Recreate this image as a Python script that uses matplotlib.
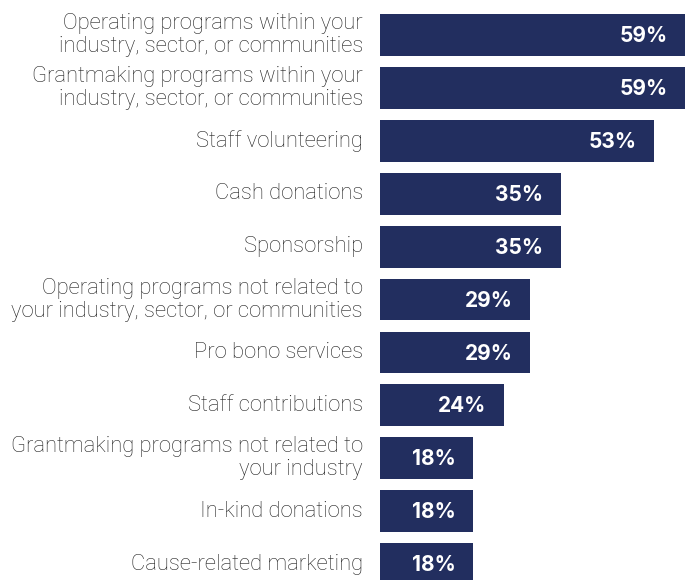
import numpy as np
from matplotlib import pyplot as plt

categories = [
    'Operating programs within your\nindustry, sector, or communities',
    'Grantmaking programs within your\nindustry, sector, or communities',
    'Staff volunteering',
    'Cash donations',
    'Sponsorship',
    'Operating programs not related to\nyour industry, sector, or communities',
    'Pro bono services',
    'Staff contributions',
    'Grantmaking programs not related to\nyour industry',
    'In-kind donations',
    'Cause-related marketing',
]
shares = [59, 59, 53, 35, 35, 29, 29, 24, 18, 18, 18]

bar_color = '#222e5f'
text_color = '#222222'

plt.rcParams['font.family'] = ['Roboto', 'DejaVu Sans']

fig = plt.figure(figsize=(6.88, 5.8), dpi=100)
ax = fig.add_axes([380 / 688, 0, 305 / 688, 1])

pos = np.arange(len(categories))
ax.barh(pos, shares, height=0.79, color=bar_color)

for y, label, val in zip(pos, categories, shares):
    ax.text(-3.3, y, label, ha='right', va='center', fontsize=15.8,
            color=text_color, fontweight='light', linespacing=1.12)
    ax.text(val - 3.4, y + 0.02, f'{val}%', ha='right', va='center',
            fontsize=15, color='white', fontweight='bold',
            family=['Inter', 'DejaVu Sans'])

ax.set_xlim(0, 59)
ax.set_ylim(10.30, -0.662)
ax.axis('off')

fig.savefig('out.png', dpi=100)
